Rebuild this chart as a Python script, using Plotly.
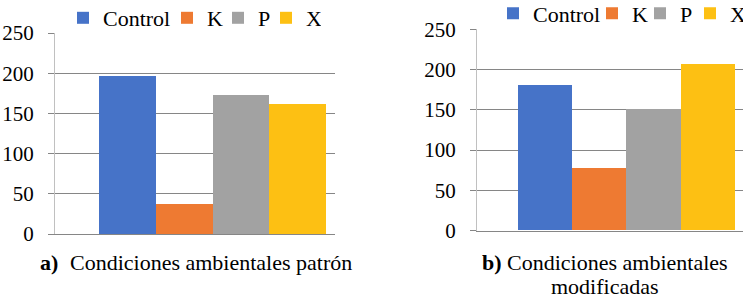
import plotly.graph_objects as go

series = ["Control", "K", "P", "X"]
colors = ["#4673C8", "#EE7A32", "#A2A2A2", "#FDC013"]
vals_a = [197, 37, 173, 162]
vals_b = [181, 78, 151, 207]
y_ticks = [0, 50, 100, 150, 200, 250]

W, H = 743, 296
FONT = "Liberation Serif, Times New Roman, serif"
GRID = "#868686"

fig = go.Figure()
widths_a = [59, 6, 3, 10]
widths_b = [54, 3, 5, 10]
for i, s in enumerate(series):
    fig.add_trace(go.Bar(x=[0], y=[vals_a[i]], name=s, marker_color=colors[i],
                         marker_line_width=0, xaxis="x", yaxis="y",
                         legend="legend", legendwidth=widths_a[i]))
for i, s in enumerate(series):
    fig.add_trace(go.Bar(x=[0], y=[vals_b[i]], name=s, marker_color=colors[i],
                         marker_line_width=0, xaxis="x2", yaxis="y2",
                         legend="legend2", legendwidth=widths_b[i]))

def px(x):
    return x / W

def py(y):
    return 1 - y / H

yax = dict(range=[0, 250], tickvals=y_ticks, showgrid=True, gridcolor=GRID, gridwidth=1,
           zeroline=False, showline=True, linecolor="#c0c0c0", linewidth=1,
           ticks="outside", ticklen=6, tickcolor=GRID, automargin=False,
           tickfont=dict(family=FONT, size=21, color="#000"), ticklabelstandoff=10)
xax = dict(showticklabels=False, showgrid=False, zeroline=False, showline=True,
           linecolor=GRID, linewidth=1, ticks="", automargin=False)

fig.update_layout(
    width=W, height=H, margin=dict(l=0, r=0, t=0, b=0, autoexpand=False),
    plot_bgcolor="white", paper_bgcolor="white",
    barmode="group", bargap=0, bargroupgap=0,
    xaxis=dict(xax, domain=[px(55), px(335)], range=[-0.6938, 0.5396], anchor="y"),
    yaxis=dict(yax, domain=[py(234), py(33)], anchor="x"),
    xaxis2=dict(xax, domain=[px(477), 1.0], range=[-0.6873, 0.5368], anchor="y2"),
    yaxis2=dict(yax, domain=[py(230.7), py(29.3)], anchor="x2"),
    legend=dict(orientation="h", x=px(63), xanchor="left", y=py(18), yanchor="middle",
                font=dict(family=FONT, size=22, color="#000"), bgcolor="rgba(0,0,0,0)",
                itemwidth=30, entrywidthmode="pixels"),
    legend2=dict(orientation="h", x=px(493), xanchor="left", y=py(13.5), yanchor="middle",
                 font=dict(family=FONT, size=22, color="#000"), bgcolor="rgba(0,0,0,0)",
                 itemwidth=30, entrywidthmode="pixels"),
    showlegend=True,
)

cap = dict(family=FONT, size=22, color="#000")
fig.add_annotation(text="<b>a)</b>", x=px(38), y=py(262), xref="paper", yref="paper",
                   xanchor="left", yanchor="middle", showarrow=False, font=cap)
fig.add_annotation(text="Condiciones ambientales patrón", x=px(68), y=py(262), xref="paper",
                   yref="paper", xanchor="left", yanchor="middle", showarrow=False, font=cap)
fig.add_annotation(text="<b>b)</b> Condiciones ambientales", x=px(605), y=py(262.7),
                   xref="paper", yref="paper", xanchor="center", yanchor="middle",
                   showarrow=False, font=cap)
fig.add_annotation(text="modificadas", x=px(605), y=py(286), xref="paper", yref="paper",
                   xanchor="center", yanchor="middle", showarrow=False, font=cap)

fig.write_html("out.html", config={"displayModeBar": False},
               post_script="document.body.style.margin='0';")
